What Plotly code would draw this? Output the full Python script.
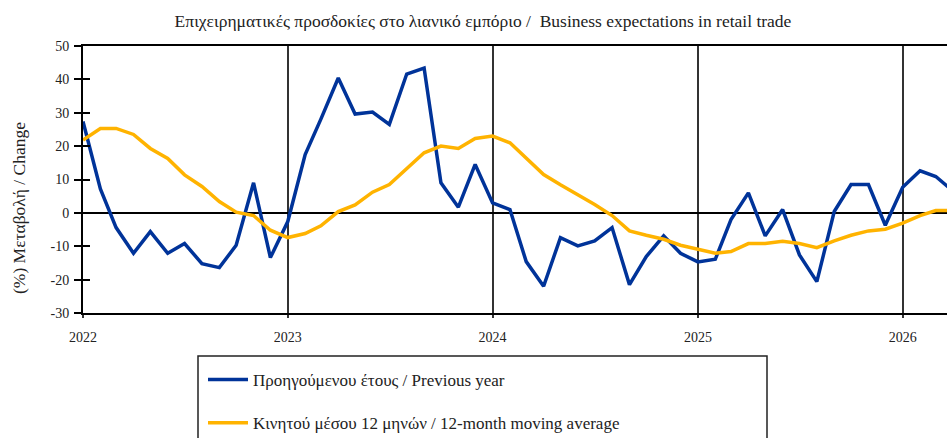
import plotly.graph_objects as go

# Monthly observations, Jan 2022 onwards
months = [f"{y}-{m:02d}-01" for y in range(2022, 2027) for m in range(1, 13)][:52]

previous_year = [
    27.4, 7.2, -4.4, -12.1, -5.6, -12.1, -9.2, -15.2, -16.4, -9.7, 9.0, -13.4,
    -2.6, 17.5, 28.1, 40.4, 29.6, 30.2, 26.5, 41.6, 43.4, 9.0, 1.7, 14.5,
    3.0, 1.0, -14.6, -22.0, -7.4, -9.9, -8.4, -4.4, -21.5, -13.1, -6.9, -12.1,
    -14.7, -13.9, -2.0, 6.0, -6.9, 1.0, -12.6, -20.6, 0.4, 8.5, 8.5, -3.7,
    7.7, 12.6, 10.9, 6.5,
]

moving_avg_12m = [
    21.8, 25.3, 25.3, 23.5, 19.3, 16.3, 11.4, 7.9, 3.4, 0.2, -0.8, -5.2,
    -7.4, -6.2, -3.9, 0.4, 2.4, 6.2, 8.5, 13.3, 18.0, 20.0, 19.3, 22.3,
    23.0, 21.0, 16.5, 11.5, 8.4, 5.5, 2.5, -0.8, -5.4, -6.7, -7.9, -9.7,
    -10.9, -12.1, -11.6, -9.2, -9.2, -8.5, -9.2, -10.4, -8.4, -6.7, -5.4, -4.9,
    -3.1, -0.8, 0.7, 0.7,
]

year_ticks = ["2022-01-01", "2023-01-01", "2024-01-01", "2025-01-01", "2026-01-01"]
year_labels = ["2022", "2023", "2024", "2025", "2026"]
y_ticks = list(range(-30, 51, 10))
y_labels = [str(v) for v in y_ticks]

BLUE = "#003399"
ORANGE = "#FFB300"
SERIF = "Liberation Serif"
TEXT = "#222222"

fig = go.Figure()
fig.add_trace(go.Scatter(
    x=months, y=previous_year, mode="lines",
    name="Προηγούμενου έτους / Previous year",
    line=dict(color=BLUE, width=3.5), legendgroup="a",
))
fig.add_trace(go.Scatter(
    x=months, y=moving_avg_12m, mode="lines",
    name="Κινητού μέσου 12 μηνών / 12-month moving average",
    line=dict(color=ORANGE, width=3.5), legendgroup="b",
))
# invisible trace that carries the inner half of the y tick marks
fig.add_trace(go.Scatter(
    x=[months[0]], y=[0], yaxis="y2", mode="lines",
    showlegend=False, hoverinfo="skip", line=dict(width=0),
))

W, H = 947, 438
L, T, B = 83, 46, 125
plot_w = W - L
plot_h = H - T - B

def px_x(px):
    return (px - L) / plot_w

def px_y(py):
    return (H - B - py) / plot_h

fig.update_layout(
    width=W, height=H,
    margin=dict(l=L, r=0, t=T, b=B, autoexpand=False),
    paper_bgcolor="white", plot_bgcolor="white",
    font=dict(family=SERIF, color=TEXT),
    title=dict(
        text="Επιχειρηματικές προσδοκίες στο λιανικό εμπόριο /  Business expectations in retail trade",
        x=483 / W, xref="container", xanchor="center",
        y=1 - 21 / H, yref="container", yanchor="middle",
        font=dict(family=SERIF, size=17.5, color=TEXT),
    ),
    xaxis=dict(
        type="date",
        range=["2022-01-01", "2026-03-21"],
        tickvals=year_ticks, ticktext=year_labels,
        tickfont=dict(family=SERIF, size=14, color=TEXT),
        showgrid=True, gridcolor="#333333", gridwidth=1.5,
        showline=True, linecolor="black", linewidth=2, mirror=True,
        ticks="outside", ticklen=3, tickwidth=1.5, tickcolor="#333333",
        ticklabelstandoff=7,
        zeroline=False,
    ),
    yaxis=dict(
        range=[-30, 50],
        tickvals=y_ticks, ticktext=y_labels,
        tickfont=dict(family=SERIF, size=14, color=TEXT),
        showgrid=False,
        showline=True, linecolor="black", linewidth=2,
        ticks="outside", ticklen=7, tickwidth=1.5, tickcolor="black",
        ticklabelstandoff=2,
        zeroline=True, zerolinecolor="black", zerolinewidth=1.5,
    ),
    yaxis2=dict(
        range=[-30, 50], overlaying="y", side="left",
        tickvals=y_ticks, showticklabels=False,
        ticks="inside", ticklen=7, tickwidth=1.5, tickcolor="black",
        showgrid=False, zeroline=False, showline=False,
    ),
    legend=dict(
        x=px_x(203), y=px_y(362), xanchor="left", yanchor="top",
        xref="paper", yref="paper",
        font=dict(family=SERIF, size=17, color=TEXT),
        traceorder="grouped", tracegroupgap=18,
        bgcolor="rgba(0,0,0,0)", borderwidth=0,
        itemwidth=40,
    ),
    annotations=[dict(
        text="(%) Μεταβολή / Change", textangle=-90,
        xref="paper", yref="paper", x=px_x(19), y=px_y(208),
        xanchor="center", yanchor="middle", showarrow=False,
        font=dict(family=SERIF, size=17.5, color=TEXT),
    )],
    shapes=[dict(
        type="rect", xref="paper", yref="paper",
        x0=px_x(198), x1=px_x(767), y0=px_y(356), y1=px_y(470),
        line=dict(color=TEXT, width=1.5), fillcolor="rgba(0,0,0,0)",
        layer="below",
    )],
    showlegend=True,
)

fig.write_html("out.html")
